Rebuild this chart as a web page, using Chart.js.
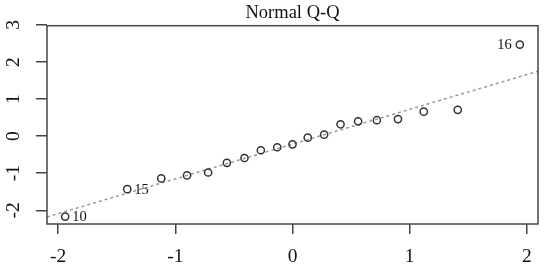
<!DOCTYPE html>
<html>
<head>
<meta charset="utf-8">
<script src="https://cdn.jsdelivr.net/npm/chart.js@4/dist/chart.umd.min.js"></script>
<style>
  html, body { margin: 0; padding: 0; background: #fff; }
  #wrap { width: 545px; height: 265px; }
</style>
</head>
<body>
<div id="wrap"><canvas id="c"></canvas></div>
<script>
// Theoretical quantiles (x) and sample quantiles (y)
const theoretical = [-1.94, -1.41, -1.12, -0.90, -0.72, -0.56, -0.41, -0.27, -0.13, 0.00,
                     0.13, 0.27, 0.41, 0.56, 0.72, 0.90, 1.12, 1.41, 1.94];
const sample = [-2.17, -1.43, -1.14, -1.06, -0.98, -0.72, -0.59, -0.38, -0.30, -0.22,
                -0.04, 0.04, 0.32, 0.40, 0.43, 0.46, 0.66, 0.71, 2.47];
// Reference (Q-Q) line end points
const qqLineX = [-2.095, 2.095];
const qqLineY = [-2.18, 1.75];
// Point labels (index into the series, text)
const labelIndex = [0, 1, 18];
const labelText = ['10', '15', '16'];
const labelSide = ['right', 'right', 'left'];
// Ticks
const xTicks = [-2, -1, 0, 1, 2];
const yTicks = [-2, -1, 0, 1, 2, 3];
const xRange = [-2.095, 2.095];
const yRange = [-2.37, 2.98];
const titleText = 'Normal Q-Q';

const SERIF = "'Liberation Serif', 'DejaVu Serif', serif";
const AXIS_COLOR = '#444';

const pointsData = theoretical.map((x, i) => ({ x: x, y: sample[i] }));
const lineData = qqLineX.map((x, i) => ({ x: x, y: qqLineY[i] }));

const boxPlugin = {
  id: 'box',
  afterDraw(chart) {
    const { ctx, chartArea: a } = chart;
    ctx.save();
    ctx.strokeStyle = AXIS_COLOR;
    ctx.lineWidth = 1.5;
    ctx.strokeRect(a.left, a.top, a.right - a.left, a.bottom - a.top);
    ctx.restore();
  }
};

const pointLabelPlugin = {
  id: 'pointLabels',
  afterDatasetsDraw(chart) {
    const { ctx } = chart;
    const xs = chart.scales.x, ys = chart.scales.y;
    ctx.save();
    ctx.font = '14.5px ' + SERIF;
    ctx.fillStyle = '#111';
    ctx.textBaseline = 'middle';
    labelIndex.forEach((idx, k) => {
      const px = xs.getPixelForValue(theoretical[idx]);
      const py = ys.getPixelForValue(sample[idx]);
      if (labelSide[k] === 'right') {
        ctx.textAlign = 'left';
        ctx.fillText(labelText[k], px + 7, py + 1);
      } else {
        ctx.textAlign = 'right';
        ctx.fillText(labelText[k], px - 8, py + 1);
      }
    });
    ctx.restore();
  }
};

new Chart(document.getElementById('c'), {
  type: 'scatter',
  data: {
    datasets: [
      {
        type: 'line',
        data: lineData,
        borderColor: '#999',
        borderWidth: 1.5,
        borderDash: [3, 3],
        pointRadius: 0,
        fill: false,
        order: 2
      },
      {
        data: pointsData,
        pointStyle: 'circle',
        pointRadius: 3.6,
        pointBorderWidth: 1.5,
        pointBorderColor: '#333',
        pointBackgroundColor: 'rgba(0,0,0,0)',
        order: 1
      }
    ]
  },
  plugins: [boxPlugin, pointLabelPlugin],
  options: {
    responsive: true,
    maintainAspectRatio: false,
    animation: false,
    events: [],
    layout: { padding: { left: 0, right: 7, top: 0, bottom: 0 } },
    plugins: {
      legend: { display: false },
      tooltip: { enabled: false },
      title: {
        display: true,
        fullSize: false,
        text: titleText,
        color: '#111',
        font: { family: SERIF, size: 18.5, weight: 'normal' },
        padding: { top: 1, bottom: 1 }
      }
    },
    scales: {
      x: {
        type: 'linear',
        min: xRange[0],
        max: xRange[1],
        afterBuildTicks: s => { s.ticks = xTicks.map(v => ({ value: v })); },
        afterFit: s => { s.height = 41; },
        grid: { display: true, drawOnChartArea: false, drawTicks: true, tickLength: 10, color: AXIS_COLOR, lineWidth: 1.5 },
        border: { display: false },
        ticks: {
          color: '#111',
          font: { family: SERIF, size: 19.5 },
          padding: 11,
          maxRotation: 0,
          callback: v => String(v)
        }
      },
      y: {
        type: 'linear',
        min: yRange[0],
        max: yRange[1],
        afterBuildTicks: s => { s.ticks = yTicks.map(v => ({ value: v })); },
        afterFit: s => { s.width = 47; },
        grid: { display: true, drawOnChartArea: false, drawTicks: true, tickLength: 11, color: AXIS_COLOR, lineWidth: 1.5 },
        border: { display: false },
        ticks: {
          color: '#111',
          font: { family: SERIF, size: 19.5 },
          padding: 14,
          minRotation: 90,
          maxRotation: 90,
          crossAlign: 'center',
          callback: v => String(v)
        }
      }
    }
  }
});
</script>
</body>
</html>
